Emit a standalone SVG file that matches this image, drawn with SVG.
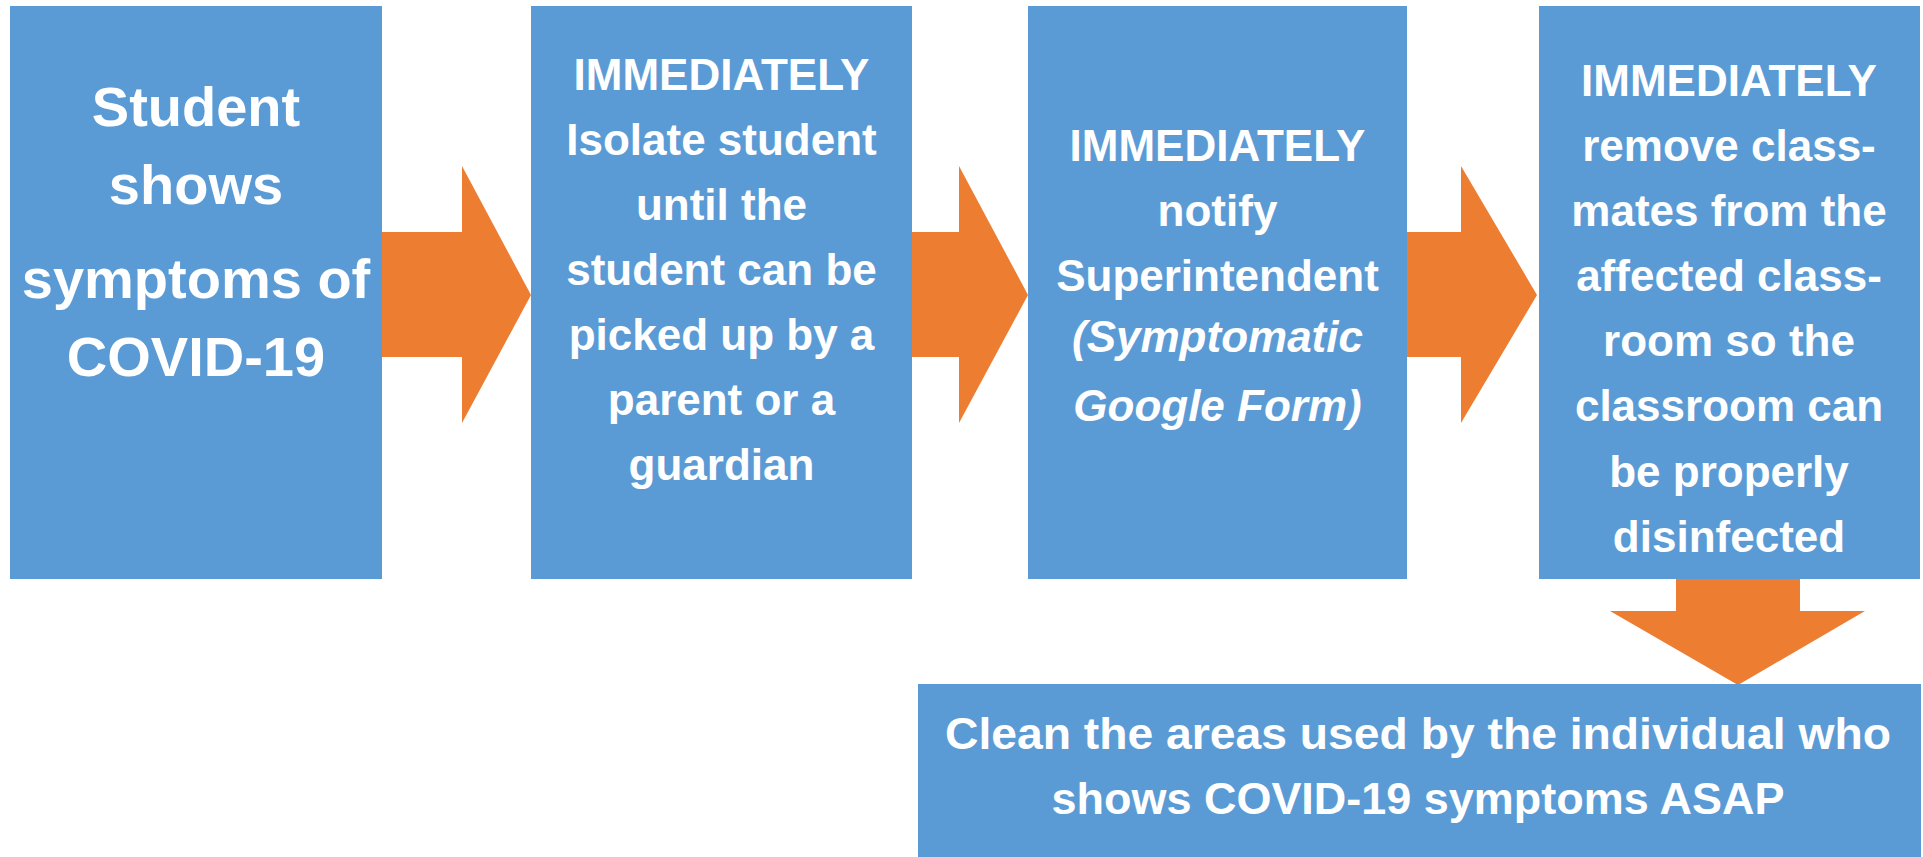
<svg xmlns="http://www.w3.org/2000/svg" width="1923" height="857" viewBox="0 0 1923 857">
<style>
.box{fill:#5B9BD5;}
.arr{fill:#ED7D31;}
text{font-family:"Liberation Sans",Arial,sans-serif;font-weight:bold;fill:#FFFFFF;text-anchor:middle;}
.big{font-size:56px;}
.mid{font-size:44px;}
.it{font-style:italic;}
.low{font-size:45px;}
</style>
<rect width="1923" height="857" fill="#FFFFFF"/>
<g id="connectors">
<polygon class="arr" points="382,232 462,232 462,166 531,295 462,423 462,357 382,357"/>
<polygon class="arr" points="912,232 959,232 959,166 1028,295 959,423 959,357 912,357"/>
<polygon class="arr" points="1407,232 1461,232 1461,166 1537,295 1461,423 1461,357 1407,357"/>
<polygon class="arr" points="1676,579 1800,579 1800,611 1865,611 1738,685 1610,611 1676,611"/>
</g>
<g id="node1">
<rect class="box" x="10" y="6" width="372" height="573"/>
<text class="big" x="196" y="126">Student</text>
<text class="big" x="196" y="204">shows</text>
<text class="big" x="196" y="298">symptoms of</text>
<text class="big" x="196" y="376">COVID-19</text>
</g>
<g id="node2">
<rect class="box" x="531" y="6" width="381" height="573"/>
<text class="mid" x="721.5" y="90">IMMEDIATELY</text>
<text class="mid" x="721.5" y="155">Isolate student</text>
<text class="mid" x="721.5" y="220">until the</text>
<text class="mid" x="721.5" y="285">student can be</text>
<text class="mid" x="721.5" y="350">picked up by a</text>
<text class="mid" x="721.5" y="415">parent or a</text>
<text class="mid" x="721.5" y="480">guardian</text>
</g>
<g id="node3">
<rect class="box" x="1028" y="6" width="379" height="573"/>
<text class="mid" x="1217.5" y="161">IMMEDIATELY</text>
<text class="mid" x="1217.5" y="226">notify</text>
<text class="mid" x="1217.5" y="291">Superintendent</text>
<text class="mid it" x="1217.5" y="352">(Symptomatic</text>
<text class="mid it" x="1217.5" y="421">Google Form)</text>
</g>
<g id="node4">
<rect class="box" x="1539" y="6" width="381" height="573"/>
<text class="mid" x="1729" y="96">IMMEDIATELY</text>
<text class="mid" x="1729" y="161">remove class-</text>
<text class="mid" x="1729" y="226">mates from the</text>
<text class="mid" x="1729" y="291">affected class-</text>
<text class="mid" x="1729" y="356">room so the</text>
<text class="mid" x="1729" y="421">classroom can</text>
<text class="mid" x="1729" y="487">be properly</text>
<text class="mid" x="1729" y="552">disinfected</text>
</g>
<g id="node5">
<rect class="box" x="918" y="684" width="1003" height="173"/>
<text class="low" x="1418" y="749" textLength="946" lengthAdjust="spacingAndGlyphs">Clean the areas used by the individual who</text>
<text class="low" x="1418" y="814" textLength="733" lengthAdjust="spacingAndGlyphs">shows COVID-19 symptoms ASAP</text>
</g>
</svg>
